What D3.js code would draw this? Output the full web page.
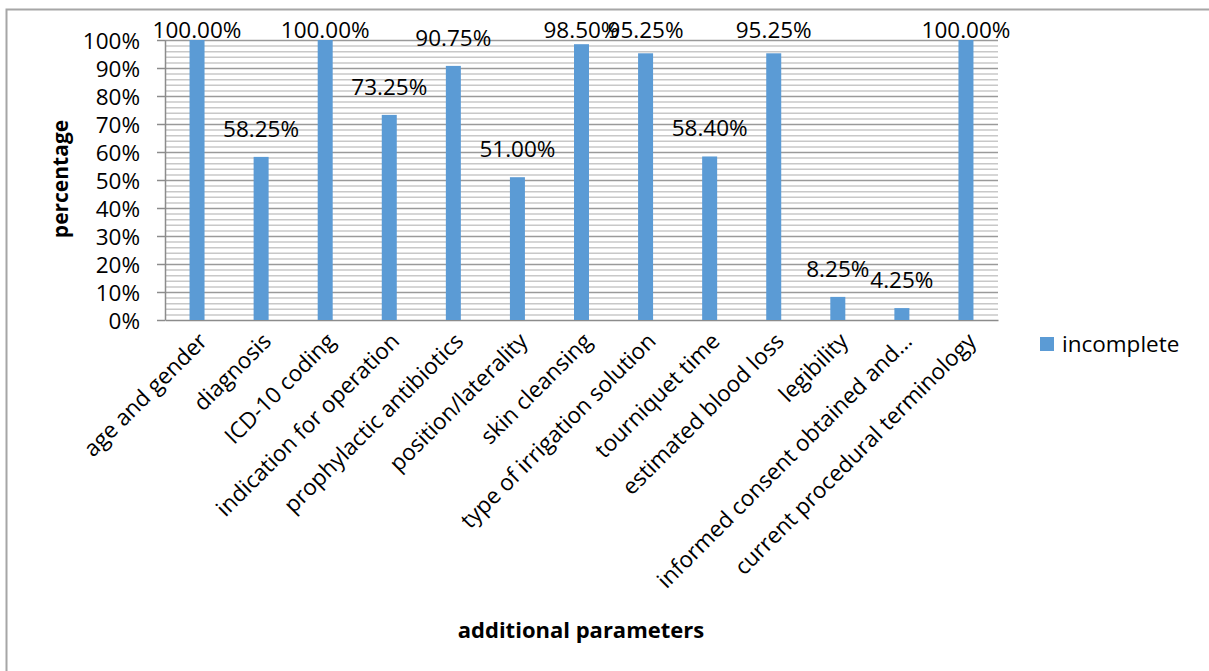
<!DOCTYPE html>
<html>
<head>
<meta charset="utf-8">
<script src="https://cdn.jsdelivr.net/npm/d3@7"></script>
<style>
  html, body { margin: 0; padding: 0; background: #fff; }
  svg { display: block; font-family: "Open Sans", Lato, sans-serif; }
</style>
</head>
<body>
<svg id="chart" width="1209" height="671"></svg>
<script>
// Share of operation notes with incomplete documentation, per parameter
const categories = [
  "age and gender", "diagnosis", "ICD-10 coding", "indication for operation",
  "prophylactic antibiotics", "position/laterality", "skin cleansing",
  "type of irrigation solution", "tourniquet time", "estimated blood loss",
  "legibility", "informed consent obtained and\u2026", "current procedural terminology"
];
const incomplete = [100.00, 58.25, 100.00, 73.25, 90.75, 51.00, 98.50, 95.25, 58.40, 95.25, 8.25, 4.25, 100.00];
const yTicks = [0, 10, 20, 30, 40, 50, 60, 70, 80, 90, 100];
const seriesName = "incomplete";
const xTitle = "additional parameters";
const yTitle = "percentage";

const svg = d3.select("#chart");
const plot = { left: 165, right: 998, top: 40, bottom: 320 };
const barColor = "#5B9BD5";
const fontSize = 22.5;

// outer chart frame
svg.append("rect")
  .attr("x", 6.5).attr("y", 9.5)
  .attr("width", 1400).attr("height", 900)
  .attr("fill", "#fff").attr("stroke", "#a6a6a6").attr("stroke-width", 2);

const x = d3.scaleBand().domain(categories).range([plot.left, plot.right]).padding(0);
const y = d3.scaleLinear().domain([0, 100]).range([plot.bottom, plot.top]);

// minor gridlines every 2%
const minor = d3.range(0, 101, 2).filter(v => v % 10 !== 0);
svg.append("g").selectAll("line").data(minor).join("line")
  .attr("x1", plot.left).attr("x2", plot.right)
  .attr("y1", d => y(d) + 0.5).attr("y2", d => y(d) + 0.5)
  .attr("stroke", "#c8c8c8").attr("stroke-width", 1.5);

// major gridlines
svg.append("g").selectAll("line").data(yTicks.filter(v => v > 0)).join("line")
  .attr("x1", plot.left).attr("x2", plot.right)
  .attr("y1", d => y(d) + 0.5).attr("y2", d => y(d) + 0.5)
  .attr("stroke", "#9a9a9a").attr("stroke-width", 1.5);

// y axis
const yAxis = d3.axisLeft(y).tickValues(yTicks).tickFormat(d => d + "%").tickSize(8).tickSizeOuter(0);
const gy = svg.append("g").attr("transform", `translate(${plot.left},0)`).call(yAxis);
gy.select(".domain").attr("stroke", "#8c8c8c").attr("stroke-width", 1.5);
gy.selectAll(".tick line").attr("stroke", "#8c8c8c").attr("stroke-width", 1.5);
gy.selectAll(".tick text")
  .attr("x", -25).attr("dy", "0.36em")
  .attr("font-size", fontSize).attr("fill", "#000")
  .attr("font-family", "'Open Sans', sans-serif");

// x axis with slanted category names
const xAxis = d3.axisBottom(x).tickSize(0).tickSizeOuter(0);
const gx = svg.append("g").attr("transform", `translate(0,${plot.bottom})`).call(xAxis);
gx.select(".domain").attr("stroke", "#8c8c8c").attr("stroke-width", 1.5);
gx.selectAll(".tick text")
  .attr("font-size", fontSize).attr("fill", "#000")
  .attr("font-family", "'Open Sans', sans-serif")
  .attr("text-anchor", "end")
  .attr("transform", "translate(6,17) rotate(-45)")
  .attr("dy", "0.35em").attr("y", 0).attr("x", 0);

// bars
const barW = 15;
svg.append("g").selectAll("rect").data(incomplete).join("rect")
  .attr("x", (d, i) => x(categories[i]) + x.bandwidth() / 2 - barW / 2)
  .attr("width", barW)
  .attr("y", d => y(d))
  .attr("height", d => y(0) - y(d))
  .attr("fill", barColor);

// value labels, held inside the chart area at the top
svg.append("g").selectAll("text").data(incomplete).join("text")
  .attr("x", (d, i) => x(categories[i]) + x.bandwidth() / 2)
  .attr("y", d => Math.max(y(d) - 20, 38))
  .attr("text-anchor", "middle")
  .attr("font-size", fontSize)
  .attr("fill", "#000")
  .text(d => d.toFixed(2) + "%");

// axis titles
svg.append("text")
  .attr("transform", `translate(68,${(plot.top + plot.bottom) / 2 - 1}) rotate(-90)`)
  .attr("text-anchor", "middle")
  .attr("font-size", 21).attr("font-weight", "bold")
  .text(yTitle);

svg.append("text")
  .attr("x", 581).attr("y", 638)
  .attr("text-anchor", "middle")
  .attr("font-size", 22).attr("font-weight", "bold")
  .text(xTitle);

// legend
const lg = svg.append("g").attr("transform", "translate(1040,337)");
lg.append("rect").attr("width", 14).attr("height", 14).attr("fill", barColor);
lg.append("text").attr("x", 22).attr("y", 15).attr("font-size", fontSize).text(seriesName);
</script>
</body>
</html>
